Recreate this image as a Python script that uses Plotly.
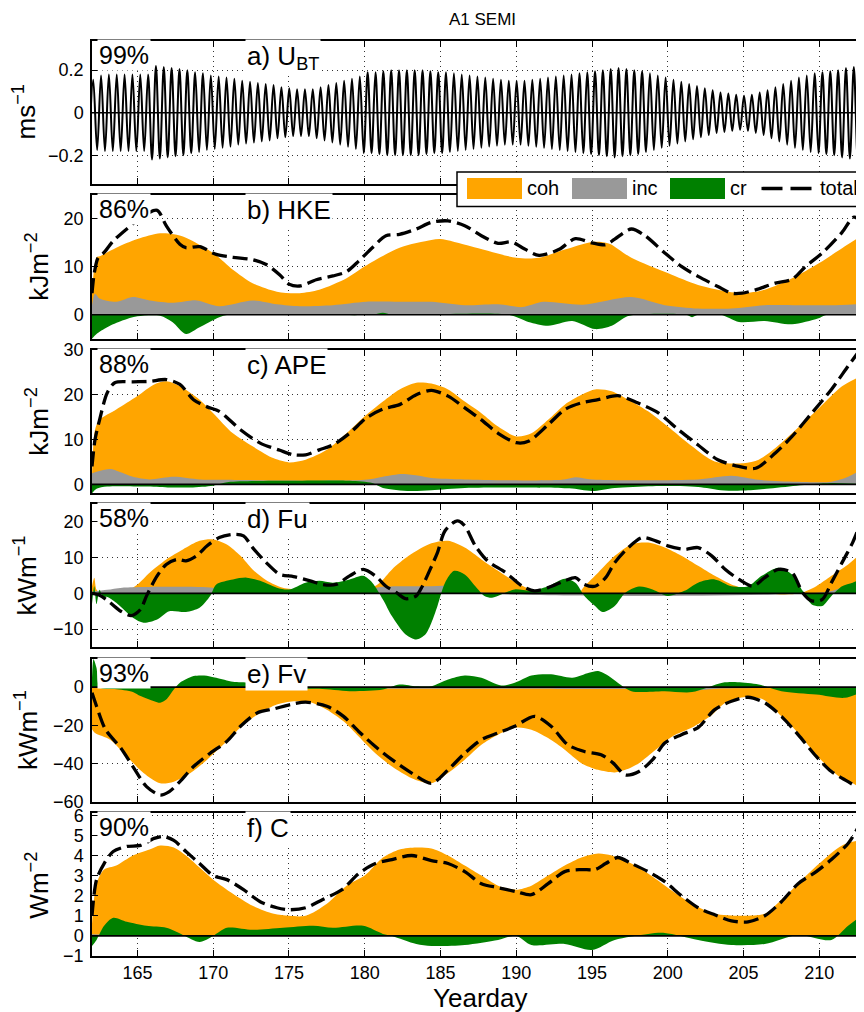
import plotly.graph_objects as go

OFF = 8                      # page offset of the plot div (body margin)
W, H = 864 - OFF, 1012 - OFF

# ---------------- data ----------------
days_ticks = [165, 170, 175, 180, 185, 190, 195, 200, 205, 210]

# a) barotropic velocity: one amplitude per semidiurnal cycle (read from the envelope)
ubt_t0 = 162.08
ubt_period = 0.5175
ubt_amp = [0.155, 0.175, 0.18, 0.18, 0.18, 0.18, 0.18, 0.18, 0.22, 0.215,
           0.21, 0.205, 0.20, 0.19, 0.185, 0.175, 0.17, 0.165, 0.16, 0.15,
           0.145, 0.14, 0.135, 0.13, 0.12, 0.115, 0.11, 0.11, 0.11, 0.12,
           0.13, 0.14, 0.15, 0.16, 0.17, 0.19, 0.19, 0.195, 0.20, 0.20,
           0.20, 0.20, 0.20, 0.195, 0.19, 0.19, 0.185, 0.18, 0.175, 0.17,
           0.165, 0.16, 0.155, 0.15, 0.15, 0.15, 0.155, 0.16, 0.165, 0.17,
           0.175, 0.18, 0.185, 0.19, 0.195, 0.20, 0.205, 0.21, 0.205, 0.20,
           0.195, 0.185, 0.175, 0.165, 0.155, 0.145, 0.135, 0.125, 0.115, 0.105,
           0.095, 0.09, 0.085, 0.08, 0.085, 0.095, 0.105, 0.12, 0.135, 0.15,
           0.165, 0.175, 0.185, 0.19, 0.195, 0.20, 0.21, 0.215, 0.22, 0.225]

# b) HKE
hke_coh_day = [162.0, 162.3, 162.5, 163.6, 165.0, 166.5, 167.4, 168.2, 170.0, 171.3, 172.6, 174.2,
               175.7, 177.0, 178.8, 180.0, 182.3, 184.4, 185.0, 187.0, 190.0, 191.5, 193.2, 195.0,
               196.1, 197.6, 200.0, 202.0, 204.2, 205.0, 206.4, 208.2, 210.0, 211.9, 212.95]
hke_coh = [4.5, 12.0, 12.2, 14.0, 15.8, 17.0, 16.8, 16.1, 12.9, 9.4, 6.6, 4.8,
           4.5, 5.2, 7.6, 10.1, 14.0, 15.6, 15.8, 14.3, 11.9, 11.9, 13.6, 15.2,
           14.9, 11.9, 8.7, 6.2, 4.7, 4.5, 5.2, 7.6, 10.8, 14.7, 16.8]
hke_inc_day = [162.0, 162.2, 162.5, 163.6, 164.7, 165.8, 167.4, 168.9, 170.4, 172.6, 174.2, 175.7,
               177.9, 180.1, 182.3, 184.4, 186.6, 188.8, 190.4, 191.8, 194.4, 197.6, 199.8, 202.0,
               204.2, 206.4, 208.6, 210.8, 212.95]
hke_inc = [2.0, 4.4, 3.4, 2.7, 3.7, 3.0, 2.5, 3.0, 1.8, 3.0, 2.2, 1.8,
           2.0, 2.7, 2.7, 2.7, 2.0, 2.2, 1.6, 2.7, 2.1, 3.7, 2.0, 1.3,
           1.3, 2.0, 2.0, 2.0, 2.3]
hke_cr_day = [162.0, 162.3, 163.0, 164.0, 165.0, 166.5, 167.3, 168.2, 169.1, 170.4, 171.0, 180.5,
              181.2, 181.8, 189.5, 190.8, 192.1, 193.7, 195.2, 196.3, 197.2, 197.8, 201.2, 201.6,
              202.0, 203.5, 204.7, 206.4, 208.2, 209.9, 210.5, 212.95]
hke_cr = [-5.0, -4.0, -2.6, -1.2, -0.3, -0.2, -1.5, -4.0, -2.6, -0.5, 0.0, 0.0,
          0.4, 0.0, 0.0, -1.5, -2.3, -1.3, -3.0, -2.3, -0.5, 0.0, 0.0, -0.5,
          0.0, 0.0, -1.5, -1.3, -2.0, -0.8, 0.0, 0.0]
hke_tot_day = [162.0, 162.15, 162.4, 162.8, 163.4, 164.4, 165.4, 166.3, 166.9, 167.8, 168.2, 169.1,
               170.2, 171.3, 172.6, 173.5, 174.4, 175.0, 175.7, 176.8, 177.9, 178.8, 179.6, 180.5,
               181.4, 182.3, 183.4, 184.4, 185.5, 186.6, 187.7, 188.8, 189.7, 190.4, 191.5, 192.8,
               193.9, 195.0, 195.9, 196.5, 197.6, 198.5, 199.8, 200.9, 202.0, 203.3, 204.2, 204.9,
               205.8, 207.1, 208.2, 209.1, 210.2, 211.5, 212.3, 212.95]
hke_tot = [4.5, 8.7, 11.9, 13.0, 15.4, 18.2, 20.7, 21.8, 18.6, 14.7, 14.0, 14.2,
           12.6, 12.0, 11.5, 10.5, 8.3, 6.4, 6.0, 7.3, 8.1, 9.0, 11.2, 14.0,
           16.5, 16.8, 17.9, 19.3, 19.6, 18.6, 16.5, 14.9, 15.2, 14.0, 12.4, 13.6,
           15.9, 15.0, 14.6, 15.8, 17.9, 16.5, 12.9, 10.1, 8.0, 5.9, 4.5, 4.5,
           5.2, 6.6, 7.4, 10.1, 12.9, 17.2, 20.4, 18.6]

# c) APE
ape_coh_day = [162.0, 162.2, 162.5, 163.6, 165.0, 166.1, 166.9, 167.8, 169.1, 170.0, 171.3, 172.6,
               174.0, 175.0, 176.1, 177.5, 178.8, 180.0, 181.2, 182.3, 183.4, 184.4, 185.5, 186.6,
               187.7, 188.8, 190.0, 191.0, 192.1, 193.2, 194.3, 195.2, 196.3, 197.6, 198.7, 200.0,
               201.6, 203.1, 205.0, 206.0, 207.1, 208.2, 210.0, 211.5, 212.95]
ape_coh = [1.7, 12.2, 14.4, 16.7, 19.7, 22.3, 23.0, 21.9, 18.9, 15.9, 11.4, 8.5,
           5.8, 4.9, 5.5, 7.7, 11.4, 15.2, 18.5, 21.2, 22.7, 22.5, 21.2, 18.5,
           15.9, 12.9, 10.7, 11.4, 14.4, 17.8, 20.0, 21.2, 20.8, 18.5, 16.3, 12.9,
           8.5, 5.1, 4.7, 5.5, 8.1, 11.4, 17.1, 21.9, 24.5]
ape_inc_day = [162.0, 163.2, 163.8, 164.7, 165.8, 167.4, 169.1, 170.5, 180.0, 181.2, 182.5, 183.6,
               184.4, 186.6, 193.0, 193.9, 195.0, 202.0, 204.2, 206.0, 208.5, 210.8, 211.9, 212.95]
ape_inc = [2.5, 3.4, 2.8, 1.7, 1.1, 1.7, 1.1, 1.0, 1.0, 1.7, 2.3, 1.9,
           1.4, 1.1, 1.0, 1.6, 1.1, 1.1, 1.9, 1.0, 0.6, 0.6, 1.7, 3.6]
ape_cr_day = [162.0, 162.3, 163.0, 165.5, 167.0, 168.5, 170.0, 171.0, 175.0, 179.0, 180.5, 181.2,
              183.0, 184.4, 186.6, 190.0, 193.5, 195.0, 196.5, 199.0, 202.0, 203.5, 205.0, 206.5,
              208.5, 210.8, 212.95]
ape_cr = [-2.0, -1.0, -0.5, -0.5, -0.7, -0.7, -0.3, 0.5, 0.8, 0.8, 0.3, -0.8,
          -1.5, -1.3, -0.8, -0.7, -0.9, -1.5, -0.8, -0.4, -0.6, -1.3, -1.4, -1.0,
          -0.3, 0.3, 0.0]
ape_tot_day = [162.0, 162.2, 162.5, 163.0, 163.5, 164.7, 165.8, 166.9, 167.8, 168.7, 169.6, 170.4,
               171.8, 173.1, 174.4, 175.3, 176.1, 177.0, 177.9, 179.0, 180.1, 181.2, 182.3, 183.4,
               184.4, 185.5, 186.6, 187.7, 188.8, 190.0, 190.8, 192.1, 193.2, 194.3, 195.4, 196.7,
               198.0, 199.4, 200.7, 202.0, 203.3, 204.7, 205.8, 207.1, 208.2, 209.5, 210.8, 211.9,
               212.7, 212.95]
ape_tot = [4.0, 10.0, 14.4, 20.4, 22.7, 22.9, 23.0, 23.4, 22.3, 18.9, 17.3, 16.3,
           12.2, 9.2, 7.6, 6.6, 6.6, 7.7, 8.8, 11.4, 14.8, 16.8, 17.8, 20.0,
           21.0, 19.7, 17.1, 14.4, 11.4, 9.3, 9.6, 13.3, 16.7, 18.2, 18.9, 19.8,
           18.2, 15.9, 12.2, 8.8, 5.5, 4.0, 3.6, 7.0, 10.7, 15.9, 21.2, 26.4,
           30.1, 31.5]

# d) Fu
fu_coh_day = [162.0, 162.15, 162.3, 162.6, 163.5, 164.3, 165.0, 165.8, 166.9, 168.0, 169.1, 170.0,
              170.9, 171.8, 172.6, 173.5, 174.6, 175.7, 176.8, 177.9, 179.0, 180.1, 181.0, 181.8,
              182.9, 184.4, 185.5, 186.6, 187.7, 188.8, 190.0, 191.0, 192.1, 193.2, 194.1, 194.5,
              195.4, 196.5, 197.6, 198.7, 199.8, 200.9, 202.0, 203.1, 204.2, 205.3, 206.4, 207.5,
              208.7, 209.8, 210.8, 211.9, 212.95]
fu_coh = [2.0, 4.4, 1.0, 0.0, -0.8, 0.7, 2.5, 5.8, 9.5, 12.3, 14.7, 15.1,
          13.7, 10.5, 6.7, 3.7, 1.6, 1.1, 1.1, 0.7, 0.7, 0.8, 3.0, 6.7,
          10.5, 14.0, 14.7, 12.8, 9.5, 6.3, 3.0, 1.1, 0.2, -0.3, 0.0, 2.0,
          5.8, 10.5, 13.7, 14.2, 12.8, 10.5, 7.7, 4.9, 2.5, 1.1, 0.2, -0.3,
          0.0, 2.0, 4.9, 8.1, 11.9]
fu_inc_day = [162.0, 163.0, 164.0, 170.0, 171.0, 180.0, 181.0, 184.4, 186.6, 187.5, 210.5, 211.5, 212.95]
fu_inc = [0.5, 1.0, 1.6, 1.6, 0.7, 0.7, 1.8, 2.0, 2.0, 0.4, 0.4, 1.6, 1.6]
fu_cr_day = [162.0, 162.15, 162.3, 162.5, 162.7, 163.0, 163.6, 164.7, 165.4, 166.3, 167.1, 168.2,
             169.1, 169.8, 170.2, 171.3, 172.2, 173.1, 174.2, 175.0, 176.1, 177.0, 177.9, 179.0,
             179.9, 180.5, 181.2, 181.8, 182.7, 183.4, 184.0, 184.4, 184.8, 185.3, 185.9, 186.6,
             187.3, 187.9, 188.4, 189.0, 189.9, 191.0, 192.1, 193.2, 193.9, 194.5, 195.2, 195.7,
             196.5, 197.2, 198.1, 199.0, 200.0, 201.1, 202.0, 203.1, 204.2, 205.3, 206.2, 207.3,
             208.2, 208.9, 209.5, 210.2, 210.8, 211.5, 212.2, 212.95]
fu_cr = [-3.0, 2.0, -3.0, 1.0, -1.0, -1.0, -2.6, -6.8, -8.2, -7.3, -5.0, -5.2,
         -4.0, -0.7, 2.5, 3.9, 4.4, 3.5, 1.6, 1.1, 3.0, 3.5, 3.0, 3.9,
         4.9, 3.0, -1.7, -6.4, -11.5, -12.9, -11.5, -8.2, -3.5, 3.0, 6.3, 5.3,
         2.0, -0.7, -1.2, -0.3, 1.1, 0.7, 2.0, 4.1, 3.0, -0.7, -3.5, -5.2,
         -3.5, 0.2, 1.9, 1.1, -0.7, 0.7, 3.0, 3.9, 2.0, 2.0, 4.9, 7.2,
         5.3, 0.7, -3.1, -3.5, -0.7, 2.0, 3.0, 4.4]
fu_tot_day = [162.0, 162.5, 163.2, 163.9, 164.6, 165.2, 165.6, 166.3, 166.9, 167.6, 168.2, 168.9,
              169.6, 170.4, 171.3, 172.0, 172.6, 173.5, 174.4, 175.3, 176.4, 177.2, 178.1, 179.0,
              179.9, 180.7, 181.4, 182.1, 182.7, 183.4, 183.8, 184.4, 184.8, 185.3, 186.1, 186.6,
              187.3, 188.1, 189.3, 190.4, 191.2, 192.1, 193.2, 193.9, 194.5, 195.2, 195.9, 196.5,
              197.4, 198.3, 199.2, 200.0, 201.1, 202.0, 202.9, 203.8, 204.7, 205.6, 206.4, 207.3,
              208.2, 208.9, 209.5, 210.2, 210.8, 211.5, 212.2, 212.8, 212.95]
fu_tot = [0.0, -0.5, -2.6, -5.0, -6.2, -4.5, -0.7, 4.9, 8.1, 9.5, 9.1, 10.5,
          13.3, 15.6, 16.5, 16.1, 12.8, 8.6, 5.3, 4.7, 3.5, 2.5, 2.5, 4.9,
          6.7, 4.9, 2.0, 0.2, -1.5, -0.7, 2.0, 7.5, 11.4, 17.5, 20.3, 18.9,
          13.3, 9.1, 5.8, 2.0, 0.7, 1.6, 3.5, 4.4, 2.5, 2.0, 4.4, 8.6,
          12.8, 15.6, 14.7, 13.3, 12.3, 12.8, 10.5, 6.7, 3.9, 2.0, 4.4, 6.7,
          5.8, 0.2, -2.1, -1.7, 3.0, 8.6, 14.2, 20.3, 21.5]

# e) Fv
fv_coh_day = [162.0, 162.2, 163.2, 164.3, 165.4, 166.5, 167.4, 168.5, 169.6, 170.9, 172.0, 173.1,
              174.2, 175.3, 176.4, 177.5, 178.6, 179.6, 180.7, 181.8, 183.1, 184.4, 185.5, 186.6,
              187.7, 188.8, 190.0, 191.0, 192.1, 193.2, 194.3, 195.4, 196.5, 197.2, 198.1, 199.2,
              200.3, 201.6, 202.8, 203.8, 205.0, 206.3, 207.5, 208.6, 209.9, 211.3, 212.2, 212.95]
fv_coh = [-22.0, -24.0, -27.5, -36.3, -45.0, -50.4, -49.5, -45.0, -38.0, -28.4, -19.6, -13.5,
          -9.1, -7.4, -7.9, -11.8, -17.9, -25.8, -34.6, -41.6, -47.7, -50.4, -45.0, -38.0,
          -30.2, -24.9, -21.2, -22.3, -26.7, -32.8, -39.8, -43.3, -44.7, -43.3, -39.8, -32.8,
          -25.8, -21.2, -15.3, -8.2, -5.3, -6.5, -15.3, -24.0, -36.3, -46.8, -50.4, -53.9]
fv_inc_day = [162.0, 170.0, 180.0, 190.0, 196.0, 200.0, 201.5, 203.0, 206.0, 212.95]
fv_inc = [-0.5, -0.5, -0.8, -0.8, -1.0, -1.2, -2.0, -1.0, -0.5, -0.5]
fv_cr_day = [162.0, 162.1, 162.3, 162.5, 163.5, 164.7, 165.2, 166.1, 166.5, 166.9, 167.4, 167.8,
             168.7, 169.4, 170.2, 171.3, 172.4, 173.5, 175.0, 177.0, 179.0, 181.2, 182.3, 183.4,
             184.4, 185.5, 186.6, 187.7, 189.0, 189.9, 191.0, 192.3, 193.7, 194.8, 195.4, 196.1,
             196.7, 197.6, 199.8, 201.6, 203.6, 204.6, 206.0, 207.5, 209.8, 211.7, 212.95]
fv_cr = [5.0, 14.6, 10.0, 0.0, -1.0, -2.5, -4.7, -7.4, -8.2, -6.5, -1.2, 2.3,
         5.8, 6.1, 4.9, 2.8, 2.3, 0.2, -0.9, -0.9, -2.1, -1.2, 1.4, 0.5,
         0.5, 4.0, 6.1, 4.9, 0.9, 2.3, 6.1, 6.7, 4.9, 7.5, 8.4, 5.8,
         2.3, -2.1, -2.1, -2.6, 2.3, 2.6, 1.4, -2.1, -3.9, -5.6, -2.1]
fv_tot_day = [162.0, 162.3, 162.9, 163.9, 164.7, 165.6, 166.5, 167.1, 167.8, 168.7, 169.8, 170.9,
              171.8, 172.9, 174.0, 175.1, 176.1, 177.5, 178.6, 179.6, 180.7, 181.8, 183.1, 184.4,
              185.5, 186.6, 187.7, 188.8, 189.9, 191.2, 192.3, 193.4, 194.5, 195.6, 196.4, 197.2,
              198.1, 199.0, 199.8, 200.9, 202.0, 203.1, 204.2, 205.3, 206.4, 207.5, 208.6, 209.8,
              210.8, 211.9, 212.95]
fv_tot = [-3.0, -10.0, -22.3, -31.9, -41.6, -52.1, -56.5, -54.7, -49.5, -41.6, -34.6, -28.4,
          -20.5, -13.5, -11.4, -9.1, -7.9, -10.0, -15.3, -23.2, -31.1, -38.0, -45.0, -50.4,
          -43.3, -34.6, -27.5, -24.0, -20.5, -15.3, -20.5, -30.2, -33.7, -35.4, -39.8, -46.0,
          -44.2, -38.0, -29.3, -24.9, -21.2, -11.8, -7.4, -5.3, -8.2, -15.3, -24.9, -36.3,
          -44.2, -49.5, -54.5]

# f) C
c_coh_day = [162.0, 162.3, 162.8, 163.6, 164.7, 165.8, 166.5, 167.4, 168.2, 169.1, 170.0, 171.3,
             172.6, 174.0, 175.0, 176.1, 177.5, 178.8, 180.0, 181.2, 182.3, 183.4, 184.4, 185.5,
             186.6, 187.7, 188.8, 190.0, 191.0, 192.1, 193.2, 194.3, 195.4, 196.3, 197.6, 198.7,
             200.0, 201.6, 203.1, 205.0, 206.4, 207.5, 208.6, 210.0, 211.5, 212.95]
c_coh = [0.6, 2.6, 3.3, 3.5, 4.0, 4.3, 4.5, 4.4, 4.0, 3.4, 2.8, 2.1,
         1.5, 1.1, 1.0, 1.0, 1.6, 2.5, 3.0, 3.9, 4.3, 4.4, 4.35, 4.0,
         3.5, 3.0, 2.5, 2.3, 2.5, 3.0, 3.5, 3.9, 4.1, 4.0, 3.6, 3.1,
         2.4, 1.6, 1.1, 1.0, 1.1, 1.8, 2.6, 3.6, 4.5, 4.8]
c_inc_day = [162.0, 163.5, 165.0, 212.95]
c_inc = [0.08, 0.06, 0.04, 0.04]
c_cr_day = [162.0, 162.3, 162.8, 163.4, 164.3, 165.6, 166.9, 168.0, 169.1, 170.0, 170.9, 172.6,
            174.6, 176.6, 177.9, 179.9, 181.2, 181.8, 183.4, 184.4, 186.6, 188.8, 190.0, 191.0,
            193.2, 195.0, 196.5, 198.7, 199.8, 202.0, 204.2, 206.4, 208.6, 210.8, 211.9, 212.95]
c_cr = [-0.5, -0.2, 0.5, 0.9, 0.7, 0.5, 0.4, 0.05, -0.3, 0.0, 0.4, 0.3,
        0.4, 0.5, 0.4, 0.5, 0.1, 0.0, -0.4, -0.5, -0.45, -0.2, 0.0, -0.45,
        -0.4, -0.7, -0.2, 0.1, 0.15, -0.2, -0.45, -0.4, 0.05, -0.2, 0.5, 1.1]
c_tot_day = [162.0, 162.3, 162.8, 163.4, 164.3, 165.2, 166.1, 166.7, 167.4, 168.2, 169.1, 170.0,
             170.9, 172.0, 173.1, 174.2, 175.0, 176.1, 177.2, 178.5, 179.6, 180.7, 181.8, 183.1,
             184.4, 185.5, 186.6, 187.7, 188.8, 190.0, 191.0, 192.1, 193.2, 194.3, 195.2, 195.9,
             196.7, 197.6, 198.7, 199.8, 200.9, 202.0, 203.1, 204.2, 205.3, 206.4, 207.5, 208.6,
             209.8, 210.8, 211.9, 212.6, 212.95]
c_tot = [1.0, 2.8, 3.6, 4.2, 4.45, 4.5, 4.85, 4.95, 4.75, 4.2, 3.6, 3.0,
         2.8, 2.3, 1.7, 1.4, 1.3, 1.4, 1.8, 2.3, 3.1, 3.6, 3.8, 4.0,
         3.75, 3.6, 3.2, 2.6, 2.4, 2.2, 2.05, 2.6, 3.2, 3.3, 3.3, 3.6,
         3.9, 3.6, 3.2, 2.7, 2.0, 1.4, 1.05, 0.75, 0.7, 1.0, 1.7, 2.6,
         3.2, 3.8, 4.6, 5.45, 6.0]

panel_labels = ["a) U<sub>BT</sub>", "b) HKE", "c) APE", "d) Fu", "e) Fv", "f) C"]
panel_pcts = ["99%", "86%", "88%", "58%", "93%", "90%"]
panel_units = ["ms<sup>\u22121</sup>", "kJm<sup>\u22122</sup>", "kJm<sup>\u22122</sup>",
               "kWm<sup>\u22121</sup>", "kWm<sup>\u22121</sup>", "Wm<sup>\u22122</sup>"]
y_ranges = [[-0.335, 0.337], [-5, 25], [-2, 30], [-15, 25], [-60, 15], [-1, 6.1]]
y_ticks = [[-0.2, 0, 0.2], [0, 10, 20], [0, 10, 20, 30], [-10, 0, 10, 20],
           [-60, -40, -20, 0], [-1, 0, 1, 2, 3, 4, 5, 6]]
series_names = ["coh", "inc", "cr", "total"]

# ---------------- styling ----------------
ORANGE = "#FFA500"
GRAY = "#999999"
GREEN = "#008000"
FONT = "Liberation Sans, Arial, Helvetica, sans-serif"
XR = [162.0, 212.95]
X0PX = 92
panel_px = [(41, 184), (195, 338.7), (350, 493.3), (504, 647), (658.5, 801.7), (813.3, 956)]
unit_xpx = [25, 38, 38, 26, 26, 38]


def py(px):
    # page pixel (from top) -> paper y
    return 1 - (px - OFF) / H


def px_x(px):
    # page pixel (from left) -> paper x
    return (px - OFF) / W


fig = go.Figure()

# panel a
ux, uy = [], []
for i, a in enumerate(ubt_amp):
    t = ubt_t0 + i * ubt_period
    ux += [t - ubt_period / 2, t]
    uy += [-a, a]
fig.add_trace(go.Scatter(x=ux, y=uy, mode="lines", line=dict(color="black", width=2.0, shape="spline"),
                         xaxis="x", yaxis="y", showlegend=False, hoverinfo="skip"))

panels = [
    (hke_coh_day, hke_coh, hke_inc_day, hke_inc, hke_cr_day, hke_cr, hke_tot_day, hke_tot),
    (ape_coh_day, ape_coh, ape_inc_day, ape_inc, ape_cr_day, ape_cr, ape_tot_day, ape_tot),
    (fu_coh_day, fu_coh, fu_inc_day, fu_inc, fu_cr_day, fu_cr, fu_tot_day, fu_tot),
    (fv_coh_day, fv_coh, fv_inc_day, fv_inc, fv_cr_day, fv_cr, fv_tot_day, fv_tot),
    (c_coh_day, c_coh, c_inc_day, c_inc, c_cr_day, c_cr, c_tot_day, c_tot),
]

for k, p in enumerate(panels, start=2):
    xa, ya = f"x{k}", f"y{k}"
    for (dx, dy, col, nm) in [(p[0], p[1], ORANGE, "coh"), (p[2], p[3], GRAY, "inc"), (p[4], p[5], GREEN, "cr")]:
        fig.add_trace(go.Scatter(x=dx, y=dy, mode="lines", fill="tozeroy", fillcolor=col,
                                 line=dict(width=0, color=col, shape="spline", smoothing=0.8),
                                 xaxis=xa, yaxis=ya, name=nm, showlegend=False, hoverinfo="skip"))
    fig.add_trace(go.Scatter(x=p[6], y=p[7], mode="lines",
                             line=dict(color="black", width=3.3, dash="15px,6px", shape="spline", smoothing=0.8),
                             xaxis=xa, yaxis=ya, name="total", showlegend=False, hoverinfo="skip"))

layout = dict(width=W, height=H, margin=dict(l=0, r=0, t=0, b=0, pad=0, autoexpand=False),
              paper_bgcolor="white", plot_bgcolor="white", showlegend=False,
              font=dict(family=FONT, color="black", size=18))
shapes, annotations = [], []
for k in range(1, 7):
    sfx = "" if k == 1 else str(k)
    top, bot = panel_px[k - 1]
    layout["xaxis" + sfx] = dict(
        domain=[px_x(X0PX), 1.0], range=XR, anchor="y" + sfx, tickvals=days_ticks, automargin=False,
        showticklabels=(k == 6), ticks="inside", ticklen=6, tickwidth=1.2, tickcolor="black",
        showline=True, linecolor="black", linewidth=1.5, mirror="ticks",
        showgrid=True, gridcolor="#333333", gridwidth=1, griddash="1px,4px", zeroline=False,
        tickfont=dict(family=FONT, size=18, color="black"), fixedrange=True)
    layout["yaxis" + sfx] = dict(
        domain=[py(bot), py(top)], range=y_ranges[k - 1], anchor="x" + sfx, tickvals=y_ticks[k - 1],
        automargin=False,
        ticks="inside", ticklen=6, tickwidth=1.2, tickcolor="black",
        showline=True, linecolor="black", linewidth=1.5, mirror="ticks",
        showgrid=True, gridcolor="#333333", gridwidth=1, griddash="1px,4px", zeroline=False,
        tickfont=dict(family=FONT, size=18, color="black"), ticklabelstandoff=3, fixedrange=True)
    # zero line
    shapes.append(dict(type="line", xref=f"x{sfx} domain", x0=0, x1=1, yref="y" + sfx, y0=0, y1=0,
                       line=dict(color="black", width=1.6), layer="above"))
    # percent box and label box
    annotations.append(dict(text=panel_pcts[k - 1], xref="paper", yref="paper", x=px_x(97), y=py(top - 2),
                            xanchor="left", yanchor="top", showarrow=False, bgcolor="white", borderpad=1,
                            font=dict(family=FONT, size=25, color="black")))
    annotations.append(dict(text=panel_labels[k - 1], xref="paper", yref="paper", x=px_x(245), y=py(top - 2),
                            xanchor="left", yanchor="top", showarrow=False, bgcolor="white", borderpad=1,
                            font=dict(family=FONT, size=26, color="black")))
    annotations.append(dict(text=panel_units[k - 1], xref="paper", yref="paper", x=px_x(unit_xpx[k - 1]),
                            y=py((top + bot) / 2), xanchor="center", yanchor="middle", textangle=-90,
                            showarrow=False, font=dict(family=FONT, size=26, color="black")))

annotations.append(dict(text="A1 SEMI", xref="paper", yref="paper", x=px_x(482), y=py(20),
                        xanchor="center", yanchor="middle", showarrow=False,
                        font=dict(family=FONT, size=17, color="black")))
annotations.append(dict(text="Yearday", xref="paper", yref="paper", x=px_x(480), y=py(998),
                        xanchor="center", yanchor="middle", showarrow=False,
                        font=dict(family=FONT, size=26, color="black")))

# legend (drawn as a boxed key)
shapes.append(dict(type="rect", xref="paper", yref="paper", x0=px_x(457), x1=px_x(863.5),
                   y0=py(206.5), y1=py(172), fillcolor="white", line=dict(color="black", width=1.5),
                   layer="above"))
legend_swatches = [(467, 522, ORANGE), (572, 627, GRAY), (670, 725, GREEN)]
for (a, b, col) in legend_swatches:
    shapes.append(dict(type="rect", xref="paper", yref="paper", x0=px_x(a), x1=px_x(b),
                       y0=py(199), y1=py(178), fillcolor=col, line=dict(width=0), layer="above"))
shapes.append(dict(type="line", xref="paper", yref="paper", x0=px_x(761.5), x1=px_x(812),
                   y0=py(188.5), y1=py(188.5), line=dict(color="black", width=3.3, dash="21px,8px"),
                   layer="above"))
for txt, xp in zip(series_names, [527, 632, 730, 820]):
    annotations.append(dict(text=txt, xref="paper", yref="paper", x=px_x(xp - 2), y=py(188.5),
                            xanchor="left", yanchor="middle", showarrow=False,
                            font=dict(family=FONT, size=20, color="black")))

layout["shapes"] = shapes
layout["annotations"] = annotations
fig.update_layout(**layout)
fig.write_html("out.html")
